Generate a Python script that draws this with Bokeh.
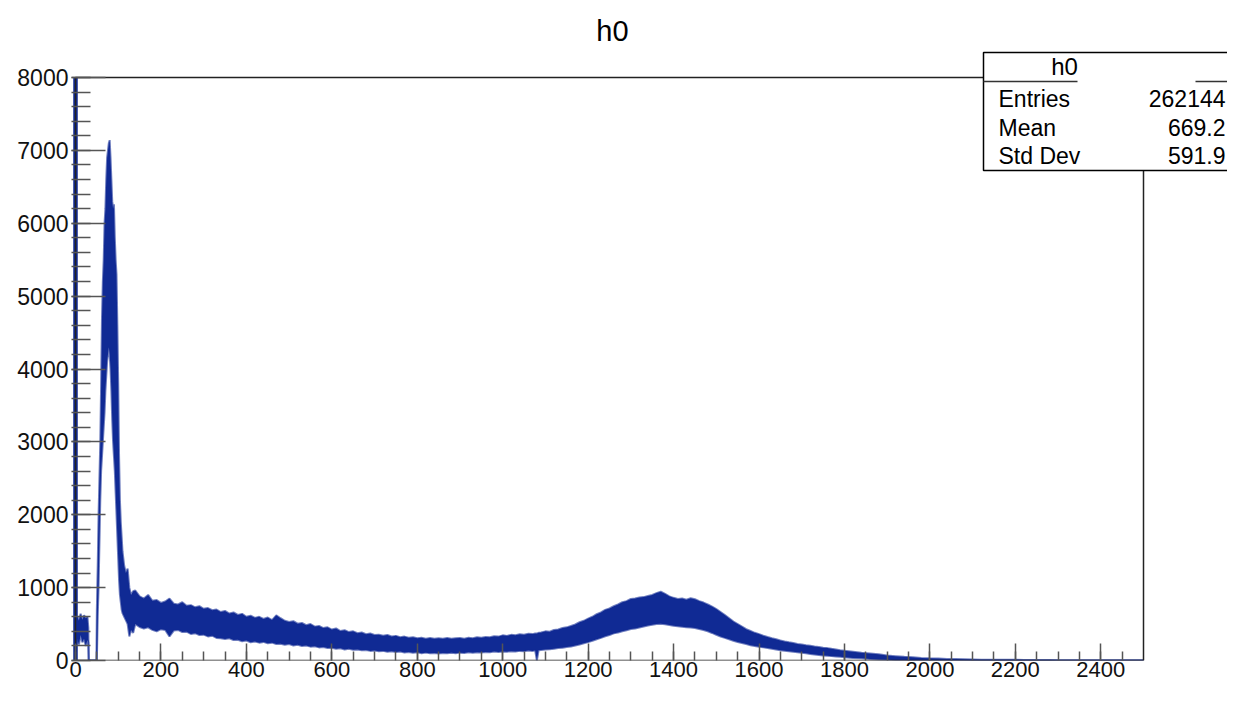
from bokeh.plotting import figure
from bokeh.models import Range1d, FixedTicker
from bokeh.core.properties import value
from bokeh.embed import file_html
from bokeh.resources import INLINE

# ---------------- data ----------------
TITLE = "h0"
STAT_NAMES = ["Entries", "Mean", "Std Dev"]
STAT_VALUES = ["262144", "669.2", "591.9"]

X_MIN, X_MAX = 0, 2500
Y_MIN, Y_MAX = 0, 8000
X_TICKS = [0, 200, 400, 600, 800, 1000, 1200, 1400, 1600, 1800, 2000, 2200, 2400]
Y_TICKS = [0, 1000, 2000, 3000, 4000, 5000, 6000, 7000, 8000]

# first bin (runs off the top of the frame)
first_bin_x = [0]
first_bin_count = [8000]

# low-x shoulder and gap
x_low = [2, 4, 8, 12, 16, 20, 24, 28, 30, 31, 49, 50]
upper_low = [560, 600, 550, 640, 560, 620, 580, 600, 450, 0, 0, 700]
lower_low = [300, 300, 220, 350, 250, 300, 200, 280, 250, 0, 0, 0]

# main peak
x_peak = [52, 54, 56, 58, 60, 62, 64, 66, 68, 70, 72, 74, 76, 78, 80, 82, 84, 86,
          88, 90, 92, 94, 96, 98, 100, 102, 104, 106, 108, 110, 114, 118, 122, 126, 130, 135]
upper_peak = [1300, 2000, 2500, 3000, 3800, 4700, 5200, 5500, 6000, 6200, 6600, 6900,
              7000, 7100, 7140, 6900, 6600, 6300, 6200, 6260, 5800, 5500, 5300, 4600,
              3800, 2800, 2200, 1900, 1700, 1500, 1300, 1200, 1260, 1000, 900, 950]
lower_peak = [600, 1000, 1600, 2200, 2600, 2800, 3000, 3200, 3400, 3700, 3900, 4100,
              4200, 4300, 4200, 4000, 3700, 3300, 3000, 2800, 2600, 2300, 2000, 1700,
              1400, 1100, 900, 800, 700, 650, 600, 550, 500, 330, 420, 380]

# continuum and the second bump (10-unit steps)
x_mid = [140, 150, 160, 170, 180, 190,
         200, 210, 220, 230, 240, 250, 260, 270, 280, 290,
         300, 310, 320, 330, 340, 350, 360, 370, 380, 390,
         400, 410, 420, 430, 440, 450, 460, 470, 480, 490,
         500, 510, 520, 530, 540, 550, 560, 570, 580, 590,
         600, 610, 620, 630, 640, 650, 660, 670, 680, 690,
         700, 710, 720, 730, 740, 750, 760, 770, 780, 790,
         800, 810, 820, 830, 840, 850, 860, 870, 880, 890,
         900, 910, 920, 930, 940, 950, 960, 970, 980, 990,
         1000, 1010, 1020, 1030, 1040, 1050, 1060, 1070, 1076, 1080, 1084, 1090,
         1100, 1110, 1120, 1130, 1140, 1150, 1160, 1170, 1180, 1190,
         1200, 1210, 1220, 1230, 1240, 1250, 1260, 1270, 1280, 1290,
         1300, 1310, 1320, 1330, 1340, 1350, 1360, 1370, 1380, 1390,
         1400, 1410, 1420, 1430, 1440, 1450, 1460, 1470, 1480, 1490,
         1500, 1510, 1520, 1530, 1540, 1550, 1560, 1570, 1580, 1590,
         1600, 1610, 1620, 1630, 1640, 1650, 1660, 1670, 1680, 1690,
         1700, 1710, 1720, 1730, 1740, 1750, 1760, 1770, 1780, 1790,
         1800]
upper_mid = [960, 880, 850, 900, 820, 830,
             790, 810, 850, 780, 770, 800, 750, 760, 730, 745,
             710, 720, 690, 700, 665, 680, 645, 660, 625, 640,
             600, 615, 585, 600, 570, 590, 555, 620, 580, 545,
             530, 540, 505, 515, 485, 500, 465, 475, 445, 455,
             425, 440, 405, 415, 390, 400, 375, 385, 360, 370,
             350, 355, 340, 350, 330, 338, 320, 328, 312, 318,
             305, 312, 300, 308, 298, 306, 300, 310, 298, 306,
             308, 300, 312, 305, 318, 312, 322, 318, 332, 328,
             345, 338, 352, 348, 360, 355, 368, 362, 372, 370, 380, 385,
             400, 395, 420, 425, 445, 455, 475, 495, 525, 545,
             575, 600, 635, 660, 695, 715, 745, 770, 800, 815,
             845, 850, 865, 870, 885, 900, 925, 945, 915, 880,
             860, 845, 850, 835, 855, 840, 815, 795, 770, 740,
             705, 665, 625, 580, 535, 500, 465, 430, 405, 380,
             362, 340, 322, 305, 292, 275, 262, 250, 240, 228,
             220, 210, 202, 192, 186, 176, 170, 160, 152, 142,
             135]
lower_mid = [500, 460, 440, 455, 420, 400,
             430, 420, 330, 410, 420, 390, 395, 365, 375, 350,
             355, 330, 340, 310, 305, 295, 305, 280, 285, 265,
             275, 250, 260, 245, 255, 235, 245, 225, 230, 215,
             225, 205, 215, 200, 205, 190, 195, 180, 185, 170,
             175, 160, 168, 152, 160, 148, 152, 140, 145, 132,
             138, 128, 132, 120, 128, 115, 122, 110, 118, 105,
             112, 100, 108, 98, 104, 96, 104, 98, 106, 100,
             108, 104, 112, 106, 114, 110, 118, 114, 122, 118,
             125, 120, 128, 125, 132, 128, 136, 132, 138, 0, 140, 145,
             150, 155, 162, 170, 176, 185, 192, 205, 220, 235,
             252, 270, 292, 310, 332, 350, 372, 385, 402, 415,
             432, 440, 452, 465, 480, 490, 502, 505, 498, 488,
             478, 470, 462, 455, 452, 445, 432, 418, 400, 378,
             352, 330, 310, 290, 270, 255, 240, 225, 210, 200,
             190, 180, 170, 160, 150, 142, 135, 127, 120, 112,
             105, 98, 90, 82, 75, 70, 65, 60, 55, 50,
             45]

# far tail (20-unit steps)
x_tail = [1820, 1840, 1860, 1880, 1900, 1920, 1940, 1960, 1980, 2000, 2020, 2040,
          2060, 2080, 2100, 2120, 2140, 2160, 2180, 2200, 2220, 2240, 2260, 2280,
          2300, 2320, 2340, 2360, 2380, 2400, 2420, 2440, 2460, 2480, 2500]
upper_tail = [120, 105, 95, 85, 70, 60, 50, 45, 35, 30, 28, 22,
              20, 18, 15, 12, 12, 10, 10, 10, 8, 8, 6, 6,
              5, 5, 4, 4, 4, 3, 3, 3, 2, 2, 2]
lower_tail = [35, 30, 22, 15, 10, 5, 3, 0, 0, 0, 0, 0,
              0, 0, 0, 0, 0, 0, 0, 0, 0, 0, 0, 0,
              0, 0, 0, 0, 0, 0, 0, 0, 0, 0, 0]

bin_x = x_low + x_peak + x_mid + x_tail
upper = upper_low + upper_peak + upper_mid + upper_tail
lower = lower_low + lower_peak + lower_mid + lower_tail
assert len(bin_x) == len(upper) == len(lower)

# ---------------- layout ----------------
W, H = 1227, 685
FL, FR, FT, FB = 71, 1227, 0, 660          # frame edges in canvas px
X0_PX, X1_PX = 75, 1143                     # where X_MIN / X_MAX sit
Y1_PX = 77                                  # where Y_MAX sits
PX_X = (X1_PX - X0_PX) / (X_MAX - X_MIN)
PX_Y = (FB - Y1_PX) / (Y_MAX - Y_MIN)


def dx(px):
    return X_MIN + (px - X0_PX) / PX_X


def dy(py):
    return Y_MIN + (FB - py) / PX_Y


BLUE = "#102a94"
FONT = value("Liberation Sans")

p = figure(width=W, height=H, output_backend="svg", toolbar_location=None,
           x_range=Range1d(dx(FL), dx(FR)), y_range=Range1d(dy(FB), dy(FT)),
           min_border_left=FL, min_border_right=0, min_border_top=0, min_border_bottom=H - FB)
p.title.visible = False
p.outline_line_color = None
p.xgrid.visible = False
p.ygrid.visible = False
p.background_fill_color = "white"
p.border_fill_color = "white"

# histogram band
p.varea(x=bin_x, y1=lower, y2=upper, fill_color=BLUE, fill_alpha=1.0)
p.line(bin_x, upper, line_color=BLUE, line_width=2, line_alpha=0.6)
p.line(bin_x, lower, line_color=BLUE, line_width=2, line_alpha=0.6)
p.segment(x0=first_bin_x, y0=[Y_MIN], x1=first_bin_x, y1=[min(c, Y_MAX) for c in first_bin_count],
          line_color=BLUE, line_width=4.5)

# frame
p.line([X_MIN, X_MAX, X_MAX, X_MIN, X_MIN], [Y_MIN, Y_MIN, Y_MAX, Y_MAX, Y_MIN],
       line_color="#222222", line_width=1.5)

# axes
p.xaxis.ticker = FixedTicker(ticks=X_TICKS, minor_ticks=list(range(X_MIN, X_MAX, 50)))
p.yaxis.ticker = FixedTicker(ticks=Y_TICKS, minor_ticks=list(range(Y_MIN, Y_MAX + 1, 200)))
for ax in (p.xaxis[0], p.yaxis[0]):
    ax.axis_line_color = None
    ax.major_tick_out = 0
    ax.minor_tick_out = 0
    ax.major_tick_line_color = "#555555"
    ax.minor_tick_line_color = "#555555"
    ax.major_tick_line_width = 1.5
    ax.minor_tick_line_width = 1.5
    ax.major_label_text_font = "Liberation Sans"
    ax.major_label_text_color = "#111111"
p.xaxis.major_label_text_font_size = "22px"
p.yaxis.major_label_text_font_size = "23px"
p.xaxis.major_tick_in = 17
p.xaxis.minor_tick_in = 9
p.xaxis.major_label_standoff = 1
p.yaxis.major_tick_in = 34
p.yaxis.minor_tick_in = 19
p.yaxis.major_label_standoff = 3

# title
p.text(x=[dx(612)], y=[dy(30)], text=[TITLE], text_font=FONT, text_font_size="29px",
       text_align="center", text_baseline="middle", text_color="black")

# stats box
p.quad(left=[dx(983)], right=[dx(1260)], top=[dy(52)], bottom=[dy(170)],
       fill_color="white", line_color="black", line_width=1.5)
p.segment(x0=[dx(983), dx(1195)], y0=[dy(81), dy(81)], x1=[dx(1077), dx(1260)], y1=[dy(81), dy(81)],
          line_color="#333333", line_width=1.5)
p.text(x=[dx(1064)], y=[dy(66)], text=[TITLE], text_font=FONT, text_font_size="24px",
       text_align="center", text_baseline="middle", text_color="black")
row_mid = [98, 127, 155]
p.text(x=[dx(998)] * 3, y=[dy(b) for b in row_mid], text=STAT_NAMES, text_font=FONT,
       text_font_size="23px", text_align="left", text_baseline="middle", text_color="black")
p.text(x=[dx(1225)] * 3, y=[dy(b) for b in row_mid], text=STAT_VALUES, text_font=FONT,
       text_font_size="23px", text_align="right", text_baseline="middle", text_color="black")

open("out.html", "w").write(file_html(p, INLINE))
